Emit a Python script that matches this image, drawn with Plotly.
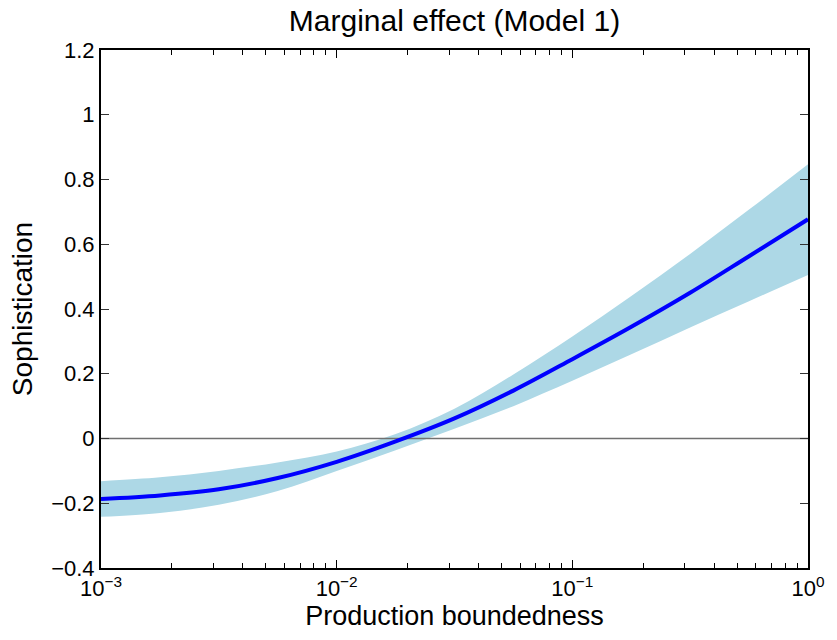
import plotly.graph_objects as go

# Data (x on a log scale)
x_vals = [0.001, 0.00178, 0.00316, 0.00562, 0.01, 0.0178, 0.0316, 0.0562, 0.1, 0.178, 0.316, 0.562, 1.0]
effect = [-0.187, -0.176, -0.157, -0.122, -0.072, -0.009, 0.062, 0.148, 0.245, 0.345, 0.450, 0.563, 0.677]
lower = [-0.242, -0.230, -0.205, -0.162, -0.100, -0.036, 0.030, 0.100, 0.178, 0.260, 0.343, 0.424, 0.505]
upper = [-0.132, -0.120, -0.100, -0.074, -0.040, 0.014, 0.092, 0.198, 0.315, 0.440, 0.570, 0.707, 0.847]

title_text = "Marginal effect (Model 1)"
x_label = "Production boundedness"
y_label = "Sophistication"
y_ticks = [-0.4, -0.2, 0, 0.2, 0.4, 0.6, 0.8, 1, 1.2]
y_ticktext = ["\u22120.4", "\u22120.2", "0", "0.2", "0.4", "0.6", "0.8", "1", "1.2"]
x_ticks = [0.001, 0.01, 0.1, 1]
x_ticktext = ["10<sup>\u22123</sup>", "10<sup>\u22122</sup>", "10<sup>\u22121</sup>", "10<sup>0</sup>"]
minor_x = [m * d for d in [0.001, 0.01, 0.1] for m in range(2, 10)]

FONT = "Liberation Sans, Arial, Helvetica, sans-serif"

fig = go.Figure()
fig.add_trace(go.Scatter(x=x_vals, y=upper, mode="lines", line=dict(width=0, color="#ADD8E6", shape="spline"),
                         showlegend=False, hoverinfo="skip"))
fig.add_trace(go.Scatter(x=x_vals, y=lower, mode="lines", line=dict(width=0, color="#ADD8E6", shape="spline"),
                         fill="tonexty", fillcolor="#ADD8E6", showlegend=False, hoverinfo="skip"))
fig.add_trace(go.Scatter(x=[x_vals[0], x_vals[-1]], y=[0, 0], mode="lines",
                         line=dict(width=1.5, color="#707070"), showlegend=False))
fig.add_trace(go.Scatter(x=x_vals, y=effect, mode="lines", line=dict(width=4, color="#0000FF", shape="spline"),
                         showlegend=False))

fig.update_layout(
    width=837, height=640,
    margin=dict(l=101, r=25, t=50, b=72),
    paper_bgcolor="white", plot_bgcolor="white",
    font=dict(family=FONT, size=22, color="black"),
    title=dict(text=title_text, x=0.5, xref="paper", xanchor="center", y=0.968, yanchor="middle",
               font=dict(size=30, family=FONT, color="black")),
    xaxis=dict(type="log", range=[-3, 0], tickvals=x_ticks, ticktext=x_ticktext,
               ticks="inside", ticklen=8, tickwidth=1, tickcolor="black",
               showline=True, linecolor="black", linewidth=2, mirror="allticks",
               showgrid=False, zeroline=False,
               tickfont=dict(size=22, family=FONT),
               minor=dict(tickvals=minor_x, ticks="inside", ticklen=5, tickcolor="black", showgrid=False),
               title=dict(text=x_label, font=dict(size=27, family=FONT), standoff=4)),
    yaxis=dict(range=[-0.4, 1.2], tickvals=y_ticks, ticktext=y_ticktext,
               ticks="inside", ticklen=8, tickwidth=1, tickcolor="#333",
               showline=True, linecolor="black", linewidth=2, mirror="allticks",
               showgrid=False, zeroline=False,
               tickfont=dict(size=22, family=FONT),
               title=dict(text=y_label, font=dict(size=28, family=FONT), standoff=10)),
)

fig.write_html("out.html")
